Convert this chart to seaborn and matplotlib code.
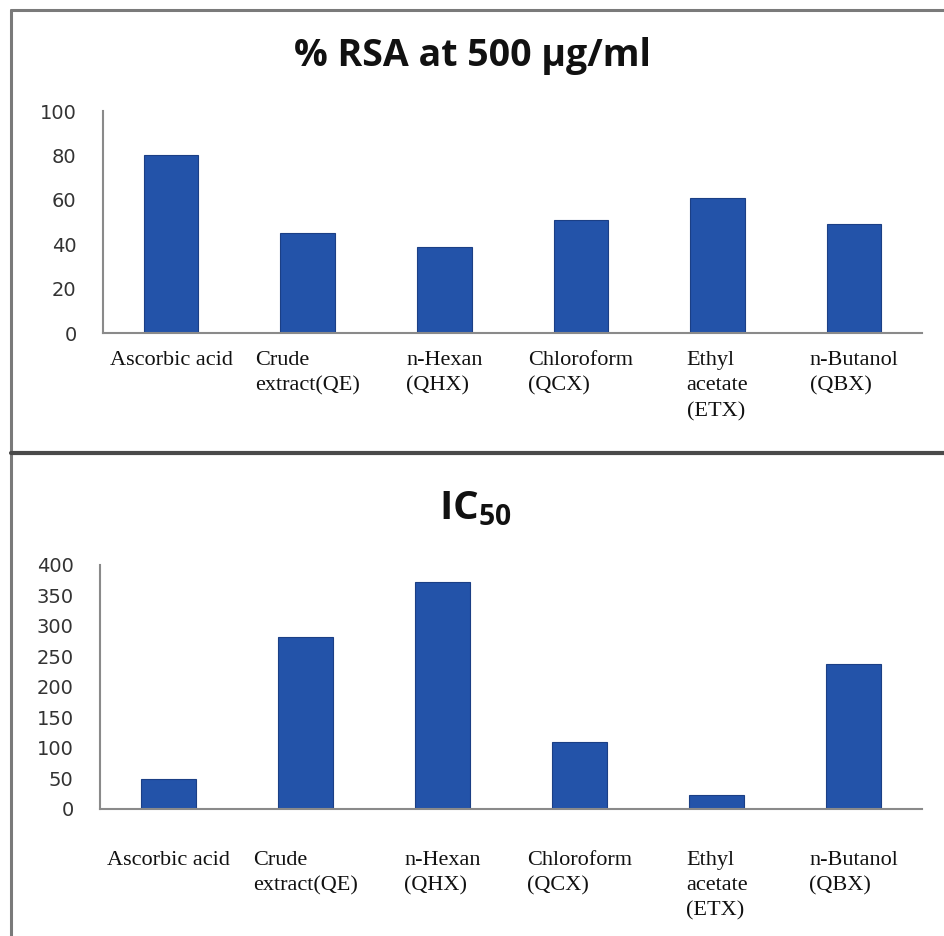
import matplotlib
matplotlib.use("Agg")
import matplotlib.pyplot as plt
import seaborn as sns
from matplotlib.lines import Line2D
from matplotlib.ticker import FixedLocator, NullFormatter

kategoriler = ["Ascorbic acid", "Crude\nextract(QE)", "n-Hexan\n(QHX)",
               "Chloroform\n(QCX)", "Ethyl\nacetate\n(ETX)", "n-Butanol\n(QBX)"]
rsa_degerleri = [80, 45, 38.6, 50.8, 60.6, 49.3]
ic50_degerleri = [49, 282, 372, 109, 23, 237]
rsa_ticks = [0, 20, 40, 60, 80, 100]
ic50_ticks = [0, 50, 100, 150, 200, 250, 300, 350, 400]

sns.set_style("white")
plt.rcParams['mathtext.fontset'] = 'custom'
plt.rcParams['mathtext.rm'] = 'Open Sans:bold'
plt.rcParams['mathtext.bf'] = 'Open Sans:bold'

bar_renk = "#2353A9"
eksen_renk = "#8a8a8a"

fig = plt.figure(figsize=(9.44, 9.36), dpi=100)
ax1 = fig.add_axes([0.109, 0.6442, 0.868, 0.2372])
ax2 = fig.add_axes([0.106, 0.1357, 0.871, 0.2607])


def grafik_ciz(ax, degerler, ticks, etiket_pad):
    sns.barplot(x=list(range(len(kategoriler))), y=degerler, ax=ax, color=bar_renk,
                width=0.4, saturation=1, edgecolor="#1b3f85", linewidth=0.8)
    ax.set_xlim(-0.5, len(kategoriler) - 0.5)
    ax.set_ylim(0, ticks[-1])
    ax.set_yticks(ticks)
    ax.set_yticklabels([str(t) for t in ticks], fontfamily="DejaVu Sans",
                       fontsize=14, color="#333333")
    ax.set_xticks(range(len(kategoriler)))
    ax.set_xticklabels(kategoriler, fontfamily="Liberation Serif", fontsize=16,
                       color="#111111", ha="center", multialignment="left", va="top",
                       linespacing=1.45)
    ax.tick_params(axis="x", which="major", length=0, pad=etiket_pad)
    ax.xaxis.set_minor_locator(FixedLocator([i - 0.5 for i in range(len(kategoriler) + 1)]))
    ax.xaxis.set_minor_formatter(NullFormatter())
    ax.tick_params(axis="x", which="minor", length=5, color=eksen_renk, width=1.2, direction="out")
    ax.tick_params(axis="y", length=7, color=eksen_renk, width=1.2, direction="out", pad=12)
    for s in ["top", "right"]:
        ax.spines[s].set_visible(False)
    for s in ["left", "bottom"]:
        ax.spines[s].set_color(eksen_renk)
        ax.spines[s].set_linewidth(1.5)
    ax.set_xlabel("")
    ax.set_ylabel("")


grafik_ciz(ax1, rsa_degerleri, rsa_ticks, 13)
grafik_ciz(ax2, ic50_degerleri, ic50_ticks, 30)

fig.text(0.5, 0.940, "% RSA at 500 µg/ml", ha="center", va="center",
         fontfamily="Open Sans", fontweight="bold", fontsize=27, color="#111111")
fig.text(0.503, 0.4565, r"IC$_{50}$", ha="center", va="center",
         fontfamily="Open Sans", fontweight="bold", fontsize=29, color="#111111")

# cerceve cizgileri
fig.add_artist(Line2D([0.012, 1.0], [0.989, 0.989], color="#7a7a7a", lw=2.2))
fig.add_artist(Line2D([0.012, 0.012], [0.0, 0.989], color="#7a7a7a", lw=2.2))
fig.add_artist(Line2D([0.012, 1.0], [0.5165, 0.5165], color="#4a4a4a", lw=3))

fig.savefig("out.png", dpi=100)
